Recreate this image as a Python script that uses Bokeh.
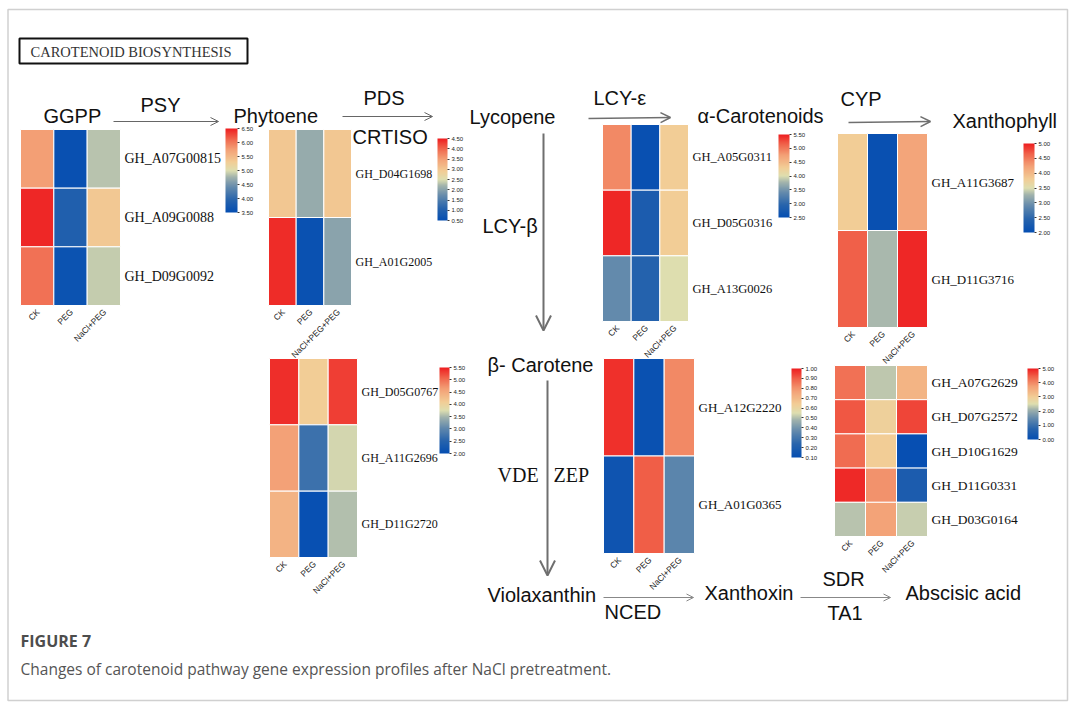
import numpy as np
from bokeh.plotting import figure
from bokeh.models import (Range1d, ColumnDataSource, LinearColorMapper, ColorBar,
                          FixedTicker, PrintfTickFormatter, Arrow, OpenHead, Label)
from bokeh.transform import transform
from bokeh.core.properties import value
from bokeh.embed import file_html
from bokeh.resources import INLINE

# ---------------- data ----------------
conds = ["CK", "PEG", "NaCl+PEG"]
conds_pds = ["CK", "PEG", "NaCl+PEG+PEG"]

genes_psy = ["GH_A07G00815", "GH_A09G0088", "GH_D09G0092"]
expr_psy = [[5.75, 3.55, 4.85], [6.45, 3.85, 5.35], [6.05, 3.60, 4.90]]
ticks_psy = [3.5, 4.0, 4.5, 5.0, 5.5, 6.0, 6.5]

genes_pds = ["GH_D04G1698", "GH_A01G2005"]
expr_pds = [[2.98, 2.10, 2.98], [4.40, 0.60, 2.00]]
ticks_pds = [0.5, 1.0, 1.5, 2.0, 2.5, 3.0, 3.5, 4.0, 4.5]

genes_lcye = ["GH_A05G0311", "GH_D05G0316", "GH_A13G0026"]
expr_lcye = [[4.90, 2.55, 4.30], [5.45, 2.80, 4.30], [3.40, 2.90, 4.00]]
ticks_lcye = [2.5, 3.0, 3.5, 4.0, 4.5, 5.0, 5.5]

genes_cyp = ["GH_A11G3687", "GH_D11G3716"]
expr_cyp = [[3.80, 2.05, 4.20], [4.65, 3.30, 4.95]]
ticks_cyp = [2.0, 2.5, 3.0, 3.5, 4.0, 4.5, 5.0]

genes_lcyb = ["GH_D05G0767", "GH_A11G2696", "GH_D11G2720"]
expr_lcyb = [[5.40, 4.10, 5.30], [4.60, 2.70, 3.70], [4.40, 2.05, 3.55]]
ticks_lcyb = [2.0, 2.5, 3.0, 3.5, 4.0, 4.5, 5.0, 5.5]

genes_zep = ["GH_A12G2220", "GH_A01G0365"]
expr_zep = [[0.97, 0.12, 0.82], [0.14, 0.90, 0.35]]
ticks_zep = [0.1, 0.2, 0.3, 0.4, 0.5, 0.6, 0.7, 0.8, 0.9, 1.0]

genes_nced = ["GH_A07G2629", "GH_D07G2572", "GH_D10G1629", "GH_D11G0331", "GH_D03G0164"]
expr_nced = [[4.25, 2.30, 3.40], [4.50, 2.90, 4.65], [4.30, 3.00, 0.05],
             [4.90, 3.90, 0.50], [2.25, 3.70, 2.35]]
ticks_nced = [0.0, 1.0, 2.0, 3.0, 4.0, 5.0]

# ---------------- colour map ----------------
anchors = [(0.0, (5, 78, 178)), (0.15, (40, 100, 172)), (0.3, (100, 138, 172)),
           (0.42, (160, 178, 172)), (0.5, (222, 222, 176)), (0.6, (242, 205, 150)),
           (0.75, (243, 160, 118)), (0.88, (240, 100, 75)), (1.0, (238, 30, 32))]
ts = np.linspace(0, 1, 256)
at = [a[0] for a in anchors]
PAL = []
for t in ts:
    rgb = [int(round(np.interp(t, at, [a[1][k] for a in anchors]))) for k in range(3)]
    PAL.append("#%02x%02x%02x" % tuple(rgb))

W, H = 1076, 708


def Y(py):
    return H - py


p = figure(width=W, height=H, x_range=Range1d(0, W), y_range=Range1d(0, H),
           output_backend="svg", toolbar_location=None,
           x_axis_location=None, y_axis_location=None, min_border=0)
p.grid.visible = False
p.outline_line_color = None
p.background_fill_color = "white"
p.border_fill_color = "white"

# outer frame
p.quad(left=[7.5], right=[1067], bottom=[Y(700)], top=[Y(9)], fill_color=None,
       line_color="#d0d0d0", line_width=1.5)


def heatmap(genes, cnds, vals, lo, hi, ticks, box, cbar, gfs):
    left, right, top, bottom = box
    n = len(genes)
    mapper = LinearColorMapper(palette=PAL, low=lo, high=hi)
    sub = p.subplot(x_source=Range1d(0, 3), y_source=Range1d(0, n),
                    x_target=Range1d(left, right), y_target=Range1d(Y(bottom), Y(top)))
    L, R, B, T, V = [], [], [], [], []
    for j, g in enumerate(genes):
        for i, c in enumerate(cnds):
            L.append(i); R.append(i + 1); B.append(n - j - 1); T.append(n - j)
            V.append(vals[j][i])
    src = ColumnDataSource(dict(left=L, right=R, bottom=B, top=T, v=V))
    sub.quad(left="left", right="right", bottom="bottom", top="top", source=src,
             fill_color=transform("v", mapper), line_color="white", line_width=1)
    sub.text(x=[3] * n, y=[n - j - 0.5 for j in range(n)], text=genes, x_offset=4,
             text_font=value("Liberation Serif"), text_font_size=f"{gfs}px",
             text_baseline="middle", text_align="left", text_color="#111111")
    sub.text(x=[i + 0.5 for i in range(3)], y=[0] * 3, text=cnds, angle=np.pi / 4,
             y_offset=5, x_offset=1, text_align="right", text_baseline="middle",
             text_font_size="8.5px", text_font=value("Liberation Sans"), text_color="#222222")
    cl, cr, ct, cb_ = cbar
    cb = ColorBar(color_mapper=mapper, orientation="vertical",
                  location=(cl, H - cb_), width=cr - cl, height=cb_ - ct,
                  ticker=FixedTicker(ticks=ticks), formatter=PrintfTickFormatter(format="%.2f"),
                  major_label_text_font_size="6px", major_label_text_font="Liberation Sans",
                  major_label_text_color="#222222", label_standoff=2,
                  major_tick_out=2, major_tick_in=0, major_tick_line_color="#333333",
                  minor_tick_line_color=None, bar_line_color=None, border_line_color=None,
                  background_fill_alpha=0, padding=0, title=None)
    p.add_layout(cb, "center")


heatmap(genes_psy, conds, expr_psy, 3.5, 6.5, ticks_psy, (20, 120, 129, 305), (225, 237, 128, 212), 14)
heatmap(genes_pds, conds_pds, expr_pds, 0.5, 4.5, ticks_pds, (268, 351, 129, 305), (437, 447, 138, 220), 12)
heatmap(genes_lcye, conds, expr_lcye, 2.5, 5.5, ticks_lcye, (602, 688, 124, 321), (778, 789, 134, 217), 12.5)
heatmap(genes_cyp, conds, expr_cyp, 2.0, 5.0, ticks_cyp, (837, 927, 133, 327), (1023, 1034, 143, 232), 13)
heatmap(genes_lcyb, conds, expr_lcyb, 2.0, 5.5, ticks_lcyb, (269, 357, 358, 557), (439, 449, 367, 453), 12)
heatmap(genes_zep, conds, expr_zep, 0.1, 1.0, ticks_zep, (603, 694, 358, 553), (791, 801, 368, 457), 13)
heatmap(genes_nced, conds, expr_nced, 0.0, 5.0, ticks_nced, (834, 927, 365, 536), (1027, 1038, 368, 439), 13.5)

# title box
p.quad(left=[19], right=[247], bottom=[Y(63)], top=[Y(38)], fill_color=None,
       line_color="#111111", line_width=2)
p.add_layout(Label(x=30, y=Y(51), text="CAROTENOID BIOSYNTHESIS", text_font="Liberation Serif",
                   text_font_size="14.5px", text_color="#333333", text_baseline="middle"))

# pathway labels
sans = [("GGPP", 43, 115), ("PSY", 140, 104), ("Phytoene", 233, 115), ("PDS", 363, 97),
        ("CRTISO", 352, 136), ("Lycopene", 469, 116), ("LCY-β", 482, 225),
        ("LCY-ε", 593, 97), ("α-Carotenoids", 697, 115), ("CYP", 840, 98),
        ("Xanthophyll", 952, 120), ("β- Carotene", 487, 364), ("Violaxanthin", 487, 594),
        ("NCED", 604, 611), ("Xanthoxin", 704, 592), ("SDR", 822, 578), ("TA1", 827, 612),
        ("Abscisic acid", 905, 592)]
for t, x, y in sans:
    p.add_layout(Label(x=x, y=Y(y), text=t, text_font="Liberation Sans", text_font_size="20px",
                       text_color="#111111", text_baseline="middle"))
for t, x, y in [("VDE", 497, 474), ("ZEP", 553, 474)]:
    p.add_layout(Label(x=x, y=Y(y), text=t, text_font="Liberation Serif", text_font_size="20px",
                       text_color="#111111", text_baseline="middle"))

# arrows
arrows = [((113, 121), (218, 121), 1, "#666666", 8),
          ((342, 116), (432, 116), 1, "#666666", 8),
          ((543, 133), (543, 330), 2, "#6f6f6f", 15),
          ((588, 118), (670, 117), 1.5, "#6f6f6f", 10),
          ((848, 122), (930, 121), 1.5, "#6f6f6f", 10),
          ((547, 380), (547, 575), 2, "#6f6f6f", 15),
          ((603, 597), (693, 597), 1, "#888888", 7),
          ((800, 597), (890, 597), 1, "#888888", 7)]
for (x0, y0), (x1, y1), w, c, s in arrows:
    p.add_layout(Arrow(end=OpenHead(size=s, line_color=c, line_width=w),
                       x_start=x0, y_start=Y(y0), x_end=x1, y_end=Y(y1),
                       line_color=c, line_width=w))

# caption
p.add_layout(Label(x=20, y=Y(640), text="FIGURE 7", text_font="Open Sans", text_font_size="16px",
                   text_font_style="bold", text_color="#4d4d4d", text_baseline="middle"))
p.add_layout(Label(x=20, y=Y(668), text="Changes of carotenoid pathway gene expression profiles after NaCl pretreatment.",
                   text_font="Open Sans", text_font_size="15.5px", text_color="#555555",
                   text_baseline="middle"))

open("out.html", "w").write(file_html(p, INLINE))
